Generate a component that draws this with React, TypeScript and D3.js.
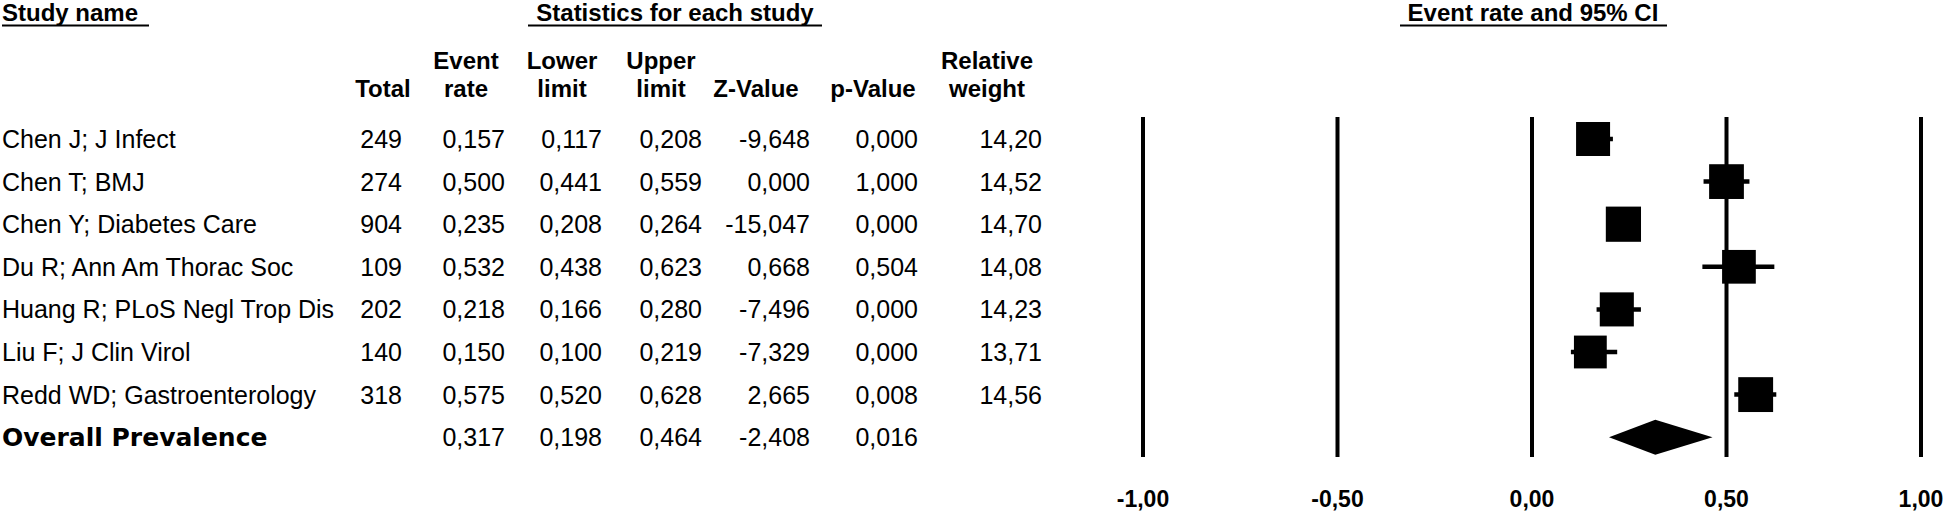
import React from "react";
import * as d3 from "d3";

const studies = [
  "Chen J; J Infect",
  "Chen T; BMJ",
  "Chen Y; Diabetes Care",
  "Du R; Ann Am Thorac Soc",
  "Huang R; PLoS Negl Trop Dis",
  "Liu F; J Clin Virol",
  "Redd WD; Gastroenterology",
];
const totals = [249, 274, 904, 109, 202, 140, 318];
const eventRates = [0.157, 0.5, 0.235, 0.532, 0.218, 0.15, 0.575];
const lowerLimits = [0.117, 0.441, 0.208, 0.438, 0.166, 0.1, 0.52];
const upperLimits = [0.208, 0.559, 0.264, 0.623, 0.28, 0.219, 0.628];
const zValues = [-9.648, 0.0, -15.047, 0.668, -7.496, -7.329, 2.665];
const pValues = [0.0, 1.0, 0.0, 0.504, 0.0, 0.0, 0.008];
const weights = [14.2, 14.52, 14.7, 14.08, 14.23, 13.71, 14.56];

const overallLabel = "Overall Prevalence";
const overallRate = 0.317;
const overallLower = 0.198;
const overallUpper = 0.464;
const overallZ = -2.408;
const overallP = 0.016;

const axisTicks = [-1, -0.5, 0, 0.5, 1];

const f3 = (v: number) => d3.format(".3f")(v).replace(".", ",").replace("−", "-");
const f2 = (v: number) => d3.format(".2f")(v).replace(".", ",").replace("−", "-");

const SANS = "'Liberation Sans', Arial, sans-serif";

export default function App() {
  const W = 1946;
  const H = 514;
  const x = d3.scaleLinear().domain([-1, 1]).range([1143, 1921]);
  const y = d3.scaleLinear().domain([0, 7]).range([139, 437.2]);
  const boxScale = d3.scaleLinear().domain([0, 14.2]).range([0, 34]);

  const colRight = { total: 402, rate: 505, lower: 602, upper: 702, z: 810, p: 918, w: 1042 };
  const base = 9;

  const rowTexts = (i: number) => [
    { x: colRight.total, t: String(totals[i]) },
    { x: colRight.rate, t: f3(eventRates[i]) },
    { x: colRight.lower, t: f3(lowerLimits[i]) },
    { x: colRight.upper, t: f3(upperLimits[i]) },
    { x: colRight.z, t: f3(zValues[i]) },
    { x: colRight.p, t: f3(pValues[i]) },
    { x: colRight.w, t: f2(weights[i]) },
  ];

  const headers = [
    { cx: 383, l1: "", l2: "Total" },
    { cx: 466, l1: "Event", l2: "rate" },
    { cx: 562, l1: "Lower", l2: "limit" },
    { cx: 661, l1: "Upper", l2: "limit" },
    { cx: 756, l1: "", l2: "Z-Value" },
    { cx: 873, l1: "", l2: "p-Value" },
    { cx: 987, l1: "Relative", l2: "weight" },
  ];

  const yTop = 117;
  const yBot = 457;
  const dY = y(7);
  const diamond = [
    [x(overallLower), dY],
    [x(overallRate), dY - 17.5],
    [x(overallUpper), dY],
    [x(overallRate), dY + 17.5],
  ];

  return (
    <svg
      width={W}
      height={H}
      style={{ position: "absolute", left: 0, top: 0, background: "#fff" }}
      fontFamily={SANS}
    >
      <rect x={0} y={0} width={W} height={H} fill="#fff" />
      {/* Section titles */}
      <g fontWeight="bold" fontSize={24} fill="#000">
        <text x={2} y={21}>Study name</text>
        <line x1={2} x2={149} y1={25.5} y2={25.5} stroke="#000" strokeWidth={2} />
        <text x={675} y={21} textAnchor="middle">Statistics for each study</text>
        <line x1={528} x2={822} y1={25.5} y2={25.5} stroke="#000" strokeWidth={2} />
        <text x={1533} y={21} textAnchor="middle">Event rate and 95% CI</text>
        <line x1={1400} x2={1667} y1={25.5} y2={25.5} stroke="#000" strokeWidth={2} />
      </g>
      {/* Column headers */}
      <g fontWeight="bold" fontSize={24} fill="#000" textAnchor="middle">
        {headers.map((h, i) => (
          <g key={i}>
            {h.l1 && <text x={h.cx} y={69}>{h.l1}</text>}
            <text x={h.cx} y={97}>{h.l2}</text>
          </g>
        ))}
      </g>
      {/* Study rows */}
      <g fontSize={25} fill="#000">
        {studies.map((s, i) => (
          <g key={s}>
            <text x={2} y={y(i) + base}>{s}</text>
            {rowTexts(i).map((c, j) => (
              <text key={j} x={c.x} y={y(i) + base} textAnchor="end">{c.t}</text>
            ))}
          </g>
        ))}
        <text
          x={2}
          y={y(7) + base}
          fontFamily="'DejaVu Sans', Verdana, sans-serif"
          fontWeight="bold"
          fontSize={25}
        >
          {overallLabel}
        </text>
        {[
          { x: colRight.rate, t: f3(overallRate) },
          { x: colRight.lower, t: f3(overallLower) },
          { x: colRight.upper, t: f3(overallUpper) },
          { x: colRight.z, t: f3(overallZ) },
          { x: colRight.p, t: f3(overallP) },
        ].map((c, j) => (
          <text key={j} x={c.x} y={y(7) + base} textAnchor="end">{c.t}</text>
        ))}
      </g>
      {/* Grid lines */}
      <g stroke="#000" strokeWidth={4}>
        {axisTicks.map((t) => (
          <line key={t} x1={x(t)} x2={x(t)} y1={yTop} y2={yBot} />
        ))}
      </g>
      {/* CIs and boxes */}
      <g fill="#000" stroke="#000">
        {studies.map((s, i) => {
          const sz = boxScale(weights[i]);
          return (
            <g key={s}>
              <line
                x1={x(lowerLimits[i])}
                x2={x(upperLimits[i])}
                y1={y(i)}
                y2={y(i)}
                strokeWidth={4.5}
              />
              <rect
                x={x(eventRates[i]) - sz / 2}
                y={y(i) - sz / 2}
                width={sz}
                height={sz}
                stroke="none"
              />
            </g>
          );
        })}
        <polygon points={diamond.map((p) => p.join(",")).join(" ")} stroke="none" />
      </g>
      {/* Axis labels */}
      <g fontWeight="bold" fontSize={23} fill="#000" textAnchor="middle">
        {axisTicks.map((t) => (
          <text key={t} x={x(t)} y={507}>{f2(t)}</text>
        ))}
      </g>
    </svg>
  );
}
